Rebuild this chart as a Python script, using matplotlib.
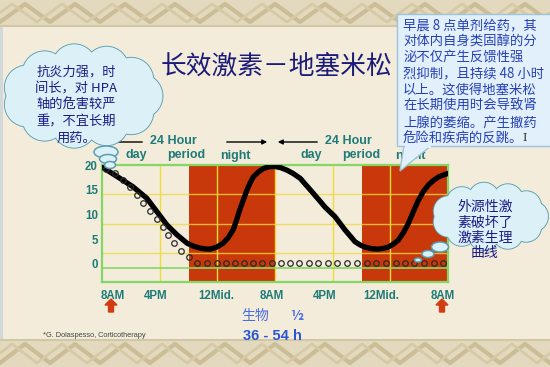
import numpy as np
import matplotlib
matplotlib.use('Agg')
import matplotlib.pyplot as plt
from matplotlib.patches import Rectangle, Ellipse, Polygon, FancyArrow

plt.rcParams['font.family'] = ['Noto Sans CJK SC', 'DejaVu Sans']

# 数据：横轴为小时（0 = 第一天早上8点）
hours = [0, 1.2, 2.5, 4.3, 6.2, 7.6, 9.0, 10.4, 11.8, 12.7, 13.6, 14.3, 15.0, 15.9,
         16.8, 17.5, 18.2, 18.65, 19.1, 19.6, 20.1, 20.55, 21.0, 21.7, 22.4, 23.2,
         24.0, 24.8, 25.6, 26.5, 27.5, 29.3, 31.0, 32.3, 33.7, 35.1, 35.8, 36.5,
         37.4, 38.3, 39.0, 39.7, 40.4, 41.1, 41.8, 42.5, 43.2, 43.9, 44.6, 45.3,
         46.0, 46.7, 47.3, 48.0]
cortisol = [19.6, 18.5, 17.3, 15.6, 13.3, 10.6, 7.9, 5.9, 4.2, 3.6, 3.2, 3.05, 3.0, 3.4,
            4.2, 5.3, 6.9, 8.8, 10.9, 12.9, 14.9, 16.4, 17.6, 18.6, 19.3, 19.65,
            19.7, 19.45, 19.0, 18.3, 17.3, 14.3, 11.4, 9.6, 6.9, 4.5, 3.85, 3.4,
            3.1, 3.0, 3.15, 3.4, 4.0, 4.8, 6.3, 8.2, 10.6, 12.9, 14.7, 16.0,
            16.9, 17.6, 17.95, 18.3]

drug_hours = [0.55, 1.8, 2.87, 3.88, 4.81, 5.73, 6.66, 7.59, 8.5, 9.2, 9.99, 10.92, 12.03,
              13.14, 14.61, 15.91, 17.16, 18.45, 19.70, 20.99, 22.24, 23.54, 24.83, 26.08,
              27.37, 28.72, 30.01, 31.31, 32.64, 33.95, 35.34, 36.72, 38.01, 39.36, 40.75,
              42.04, 43.33, 44.71, 46.06, 47.35]
drug_level = [19.2, 18.3, 17.0, 15.5, 13.9, 12.3, 10.7, 9.1, 7.4, 5.9, 4.3, 2.7, 1.35,
              0.1, 0.1, 0.1, 0.1, 0.1, 0.1, 0.1, 0.1, 0.1, 0.1, 0.1,
              0.1, 0.1, 0.1, 0.1, 0.1, 0.1, 0.1, 0.1, 0.1, 0.1, 0.1,
              0.1, 0.1, 0.1, 0.1, 0.1]

tick_pos = [1.5, 7.4, 15.9, 23.5, 30.9, 38.8, 47.3]
tick_labels = ['8AM', '4PM', '12Mid.', '8AM', '4PM', '12Mid.', '8AM']
y_ticks = [0, 5, 10, 15, 20]
night_spans = [(12, 24), (36, 48)]

left_cloud = ['抗炎力强，时', '间长，对 HPA', '轴的危害较严', '重，不宜长期', '用药。']
right_cloud = ['外源性激', '素破坏了', '激素生理', '曲线']
box_lines = ['早晨 8 点单剂给药，其', '对体内自身类固醇的分', '泌不仅产生反馈性强',
             '烈抑制，且持续 48 小时', '以上。这使得地塞米松', '在长期使用时会导致肾',
             '上腺的萎缩。产生撤药', '危险和疾病的反跳。']

teal = '#1e7b78'
navy = '#1c1c86'
green = '#85d765'
red = '#c8380a'
cfill = '#dcf0f8'
cedge = '#5a9eb0'


def cloud(ax, cx, cy, a, b, r, n, z):
    t = np.linspace(0, 2 * np.pi, n, endpoint=False)
    for k in t:
        ax.add_patch(Ellipse((cx + a * np.cos(k), cy + b * np.sin(k)), 2 * r, 2 * r,
                             fc=cfill, ec=cedge, lw=1.3, zorder=z))
    for k in t:
        ax.add_patch(Ellipse((cx + a * np.cos(k), cy + b * np.sin(k)), 2 * r, 2 * r,
                             fc=cfill, ec='none', zorder=z + 0.1))
    ax.add_patch(Ellipse((cx, cy), 2 * a, 2 * b, fc=cfill, ec='none', zorder=z + 0.1))


def bubble(ax, x, y, w, h, z):
    ax.add_patch(Ellipse((x, y), w, h, fc=cfill, ec=cedge, lw=1.1, zorder=z))


def border(ax, y0, y1):
    ax.add_patch(Rectangle((0, y0), 550, y1 - y0, fc='#e3d9be', ec='none', zorder=1))
    xs = np.arange(-50, 625, 25)
    up = [y0 + 4 if i % 2 else y1 - 4 for i in range(len(xs))]
    dn = [y1 - 4 if i % 2 else y0 + 4 for i in range(len(xs))]
    ax.plot(xs, up, color='#cbbd96', lw=3, zorder=2)
    ax.plot(xs + 12, dn, color='#d6caa6', lw=2, zorder=2)


fig = plt.figure(figsize=(5.5, 3.67), dpi=100)

# 背景
bg = fig.add_axes([0, 0, 1, 1], zorder=0)
bg.set_xlim(0, 550)
bg.set_ylim(367, 0)
bg.axis('off')
bg.add_patch(Rectangle((0, 0), 550, 367, fc='#f3ecdb', ec='none', zorder=0))
bg.add_patch(Rectangle((0, 0), 3, 367, fc='#d3d8d8', ec='none', zorder=0.5))
border(bg, 0, 26)
border(bg, 340, 367)
bg.axhline(26, color='#d2c7a5', lw=1.5, zorder=3)
bg.axhline(340, color='#d2c7a5', lw=1.5, zorder=3)

# 图表
ax = fig.add_axes([102 / 550, (367 - 282) / 367, 346 / 550, 117 / 367], zorder=1)
ax.set_facecolor('none')
ax.set_xlim(0, 48)
ax.set_ylim(-3.64, 20)
for s0, s1 in night_spans:
    ax.axvspan(s0, s1, color=red, lw=0, zorder=1)
for x in [8, 16, 24, 32, 40]:
    ax.axvline(x, color='#f2dc38', lw=1, zorder=2)
for y in [14.14, 8.08, 2.22]:
    ax.axhline(y, color='#f0d840', lw=1, alpha=0.8, zorder=2)
ax.axhline(-0.85, color=green, lw=1.2, zorder=2)
ax.plot(hours, cortisol, color='black', lw=3.8, solid_capstyle='round',
        solid_joinstyle='round', zorder=3)
ax.plot(drug_hours, drug_level, 'o', ms=4, mfc='none', mec='#2a2a2a', mew=0.9, zorder=4)
for s in ax.spines.values():
    s.set_color(green)
    s.set_linewidth(1.6)
ax.set_xticks(tick_pos, tick_labels)
ax.set_yticks(y_ticks)
ax.tick_params(length=0, labelcolor=teal, labelsize=8.3)
ax.tick_params(axis='x', pad=6)
ax.tick_params(axis='y', pad=3)
for lab in ax.get_xticklabels() + ax.get_yticklabels():
    lab.set_fontweight('bold')
    lab.set_family('Liberation Sans')

# 注释层
ov = fig.add_axes([0, 0, 1, 1], zorder=2)
ov.set_facecolor('none')
ov.set_xlim(0, 550)
ov.set_ylim(367, 0)
ov.axis('off')

ov.text(276, 67, '长效激素－地塞米松', fontsize=18.5, color='#1b1b78',
        ha='center', va='center', zorder=1)

for dx in [0, 175]:
    ov.text(173 + dx, 141, '24 Hour', fontsize=9, color=teal, fontweight='bold',
            family='Liberation Sans', ha='center', va='center', zorder=1)
    ov.text(136 + dx, 155, 'day', fontsize=9, color=teal, fontweight='bold',
            family='Liberation Sans', ha='center', va='center', zorder=1)
    ov.text(186.5 + dx, 155, 'period', fontsize=9, color=teal, fontweight='bold',
            family='Liberation Sans', ha='center', va='center', zorder=1)
    ov.text(235 + dx, 156, 'night', fontsize=9, color=teal, fontweight='bold',
            family='Liberation Sans', ha='center', va='center', zorder=1)
    ov.annotate('', xy=(100 + dx, 142), xytext=(145 + dx, 142),
                arrowprops=dict(arrowstyle='-|>', color='black', lw=1, mutation_scale=7),
                zorder=1)
    ov.annotate('', xy=(270 + dx, 142), xytext=(224 + dx, 142),
                arrowprops=dict(arrowstyle='-|>', color='black', lw=1, mutation_scale=7),
                zorder=1)

for x in [111, 442]:
    ov.add_patch(FancyArrow(x, 312, 0, -13, width=5, head_width=12, head_length=6,
                            length_includes_head=True, color='#d23c12', zorder=1))

ov.text(255, 316, '生物', fontsize=10, color='#4a6ee0', ha='center', va='center', zorder=1)
ov.text(297, 316, '½', fontsize=10, color='#4a6ee0', fontweight='bold',
        ha='center', va='center', zorder=1)
ov.text(272.5, 336, '36 - 54 h', fontsize=10.5, color='#2a56d6', fontweight='bold',
        family='Liberation Sans', ha='center', va='center', zorder=1)
ov.text(43, 335.5, '*G. Dolaspesso, Corticotherapy', fontsize=5.3, color='#444444',
        family='Liberation Sans', ha='left', va='center', zorder=1)

# 左侧云
cloud(ov, 82.5, 96, 58, 30, 22, 11, 5)
bubble(ov, 106, 152, 24, 12, 5.5)
bubble(ov, 108, 159, 17, 9, 5.5)
bubble(ov, 110, 165, 11, 7, 5.5)
for i, line in enumerate(left_cloud):
    ov.text(76, 72 + i * 16.5, line, fontsize=9.5, color=navy, ha='center', va='center',
            zorder=6)

# 右侧云
cloud(ov, 490, 216.5, 43, 19, 15, 11, 5)
bubble(ov, 440, 247, 17, 10, 5.5)
bubble(ov, 428, 254, 12, 7, 5.5)
bubble(ov, 418, 260, 7, 4, 5.5)
for i, line in enumerate(right_cloud):
    ov.text(485, 207 + i * 15.5, line, fontsize=10, color=navy, ha='center', va='center',
            zorder=6)

# 右上说明框
ov.add_patch(Polygon([(404, 145), (432, 145), (400, 171)], closed=True,
                     fc='#e2f0fb', ec='#9ec4dc', lw=1, zorder=7))
ov.add_patch(Rectangle((397, 14), 160, 132, fc='#e2f0fb', ec='#9ec4dc', lw=1, zorder=7.1))
ov.add_patch(Rectangle((405, 140), 26, 8, fc='#e2f0fb', ec='none', zorder=7.2))
for i, line in enumerate(box_lines):
    ov.text(403, 25 + i * 16.2, line, fontsize=9.6, color='#2540b8', ha='left',
            va='center', zorder=8)
ov.text(525, 138, 'I', fontsize=8, color='#333333', family='DejaVu Serif',
        ha='center', va='center', zorder=8)

fig.savefig('out.png', dpi=100)
